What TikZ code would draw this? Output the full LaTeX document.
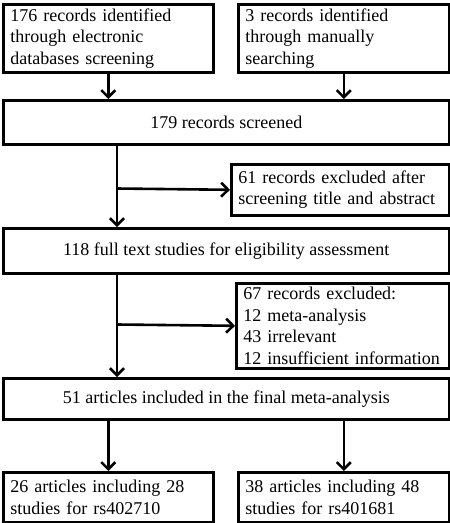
\documentclass[tikz,border=0pt]{standalone}
\usepackage{fontspec}
\setmainfont{Liberation Serif}
\usetikzlibrary{arrows.meta}
\begin{document}
\begin{tikzpicture}[x=1pt,y=-1pt,
  box/.style={draw=black,line width=2.6pt,anchor=north west,inner xsep=7pt,inner ysep=0pt,
    font=\fontsize{18}{21.5}\selectfont,align=left},
  cbox/.style={box,align=center},
  arr/.style={line width=2.6pt,-{Straight Barb[length=7pt,width=14pt,line width=2.6pt]}},
  ln/.style={line width=2.6pt}]
\useasboundingbox (0,0) rectangle (450,523);
\node[box,minimum width=210pt,minimum height=68pt,text width=196pt] (b1) at (2,3)
  {176 records identified\\through electronic\\databases screening};
\node[box,minimum width=211pt,minimum height=68pt,text width=197pt] (b2) at (237,3)
  {3 records identified\\through manually\\searching};
\node[cbox,minimum width=446pt,minimum height=44pt] (b3) at (2,99) {179 records screened};
\node[box,minimum width=218pt,minimum height=51pt,text width=204pt] (b4) at (230,163)
  {61 records excluded after\\screening title and abstract};
\node[cbox,minimum width=446pt,minimum height=45pt] (b5) at (2,227) {118 full text studies for eligibility assessment};
\node[box,minimum width=213pt,minimum height=85pt,text width=199pt] (b6) at (235,282)
  {67 records excluded:\\12 meta-analysis\\43 irrelevant\\12 insufficient information};
\node[cbox,minimum width=446pt,minimum height=41pt] (b7) at (2,377) {51 articles included in the final meta-analysis};
\node[box,minimum width=210pt,minimum height=50pt,text width=196pt] (b8) at (2,471)
  {26 articles including 28\\studies for rs402710};
\node[box,minimum width=211pt,minimum height=50pt,text width=197pt] (b9) at (237,471)
  {38 articles including 48\\studies for rs401681};
\coordinate (m) at (117,0);
\coordinate (j1) at (117,188.5);
\coordinate (j2) at (117,324.5);
\draw[arr] (b1.south) -- (b1.south |- b3.north);
\draw[arr] (b2.south) -- (b2.south |- b3.north);
\draw[arr] (b3.south -| m) -- (b5.north -| m);
\draw[arr] (j1) -- (b4.west);
\draw[arr] (b5.south -| m) -- (b7.north -| m);
\draw[arr] (j2) -- (b6.west);
\draw[arr] (b7.south -| b8.north) -- (b8.north);
\draw[arr] (b7.south -| b9.north) -- (b9.north);
\end{tikzpicture}
\end{document}
